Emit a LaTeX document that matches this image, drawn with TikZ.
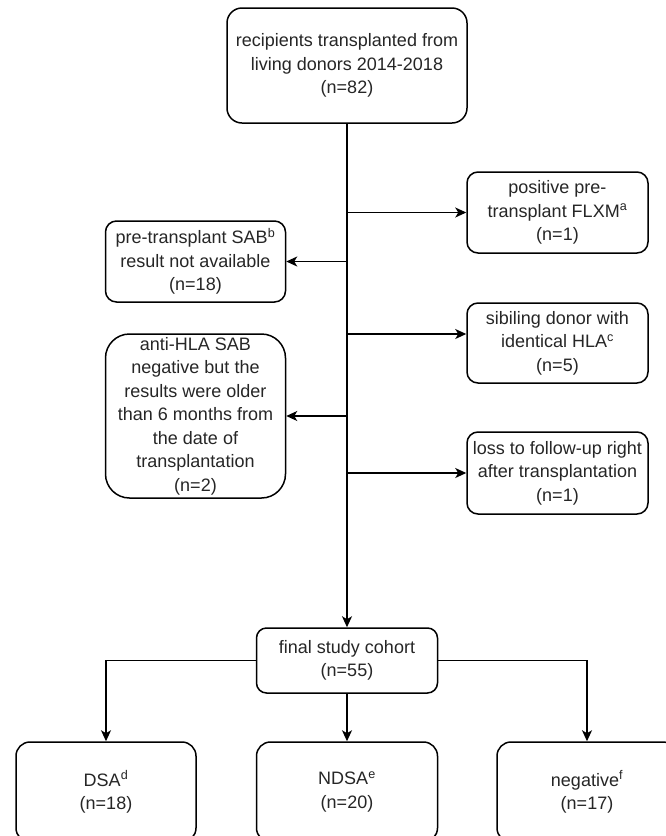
\documentclass[tikz,border=0pt]{standalone}
\usepackage{fontspec}
\setmainfont{Liberation Sans}
\usetikzlibrary{arrows.meta}
\begin{document}
\begin{tikzpicture}[x=1pt,y=-1pt,
  box/.style={draw=black, line width=1.5pt, rectangle, inner sep=0pt, align=center,
    font=\fontsize{18}{23.5}\selectfont, text=black!85},
  arr/.style={line width=1.5pt, -{Stealth[length=11pt,width=10pt,inset=3pt]}}]
\useasboundingbox (0,0) rectangle (666,836);
\clip (0,0) rectangle (666,836);
\fill[white] (0,0) rectangle (666,836);
\node[box, minimum width=240pt, minimum height=115pt, rounded corners=15pt] (top) at (347,65.5)
  {recipients transplanted from\\living donors 2014-2018\\(n=82)};
\node[box, minimum width=181pt, minimum height=81pt, rounded corners=11pt] (r1) at (557.5,212.5)
  {positive pre-\\transplant FLXM\textsuperscript{a}\\(n=1)};
\node[box, minimum width=180pt, minimum height=81pt, rounded corners=11pt] (l1) at (195.5,261.5)
  {pre-transplant SAB\textsuperscript{b}\\result not available\\(n=18)};
\node[box, minimum width=181pt, minimum height=80pt, rounded corners=11pt] (r2) at (557.5,343)
  {sibiling donor with\\identical HLA\textsuperscript{c}\\(n=5)};
\node[box, minimum width=180pt, minimum height=164pt, rounded corners=24pt] (l2) at (195.5,416)
  {anti-HLA SAB\\negative but the\\results were older\\than 6 months from\\the date of\\transplantation\\(n=2)};
\node[box, minimum width=181pt, minimum height=82pt, rounded corners=11pt] (r3) at (557.5,473)
  {loss to follow-up right\\after transplantation\\(n=1)};
\node[box, minimum width=181pt, minimum height=65pt, rounded corners=10pt] (fin) at (347,660.5)
  {final study cohort\\(n=55)};
\node[box, minimum width=180pt, minimum height=100pt, rounded corners=14pt] (b1) at (106,792)
  {DSA\textsuperscript{d}\\(n=18)};
\node[box, minimum width=181pt, minimum height=100pt, rounded corners=14pt] (b2) at (347,792)
  {NDSA\textsuperscript{e}\\(n=20)};
\node[box, minimum width=180pt, minimum height=100pt, rounded corners=14pt] (b3) at (587,792)
  {negative\textsuperscript{f}\\(n=17)};
% main trunk
\draw[arr] (top.south) -- (fin.north);
\draw[arr] (top.south |- r1.west) -- (r1.west);
\draw[arr] (top.south |- l1.east) -- (l1.east);
\draw[arr] (top.south |- 0,334) -- (r2.west |- 0,334);
\draw[arr] (top.south |- l2.east) -- (l2.east);
\draw[arr] (top.south |- r3.west) -- (r3.west);
% branches
\draw[arr] (fin.west) -| (b1.north);
\draw[arr] (fin.east) -| (b3.north);
\draw[arr] (fin.south) -- (b2.north);
\end{tikzpicture}
\end{document}
